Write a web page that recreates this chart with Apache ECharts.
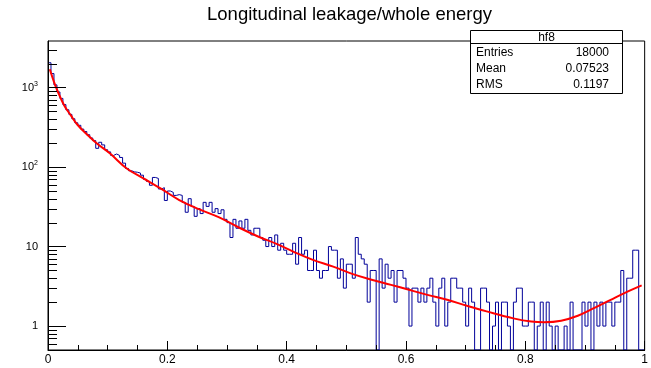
<!DOCTYPE html>
<html><head><meta charset="utf-8">
<script src="https://cdn.jsdelivr.net/npm/echarts@6/dist/echarts.min.js"></script>
<style>html,body{margin:0;padding:0;background:#fff}#c{width:651px;height:368px}</style>
</head><body><div id="c"></div>
<script>
// ---- data ----
const chartTitle = 'Longitudinal leakage/whole energy';
const xLow = 0, xHigh = 1, nBins = 200;
const counts = [
 2050,1500,1080,880,730,610,525,460,405,360,
 335,300,280,255,232,215,172,205,190,165,
 155,140,146,140,132,112,96,90,87,86,
 84,79,70,66,59,74,72,53,55,38,
 50,48,44,45,44,36,27,40,32,24,
 30,26,36,32,36,27,30,26,29,22,
 20,13,22,17,21,17,22,16,14,17,
 17,13,12,10,13,10,14,9,11,9,
 8,8,11,6,13,8,9,5,5,9,
 5,4,5,5,10,9,9,4,7,3,
 6,6,4,13,8,7,6,2,5,5,
 0,7,3,6,4,5,2,5,5,4,
 3,1,3,3,2,3,2,3,4,2,
 1,3,4,1,2,4,4,3,3,2,
 1,3,2,0,0,3,3,2,0,1,
 2,0,2,2,1,0,2,3,3,1,
 1,2,2,0,1,2,0,2,1,0,
 1,0,0,1,0,2,0,0,0,2,
 1,2,0,2,1,2,1,2,2,1,
 2,2,5,0,4,4,9,9,0,0
];
const fitX = [0.003,0.01,0.0155,0.027,0.038,0.049,0.065,0.082,0.104,0.132,0.160,0.190,0.220,0.253,0.286,0.319,0.353,0.383,0.411,0.444,0.478,0.511,0.544,0.575,0.602,0.636,0.669,0.702,0.735,0.78,0.810,0.832,0.860,0.888,0.915,0.943,0.966,0.995];
const fitY = [1700,1180,925,600,450,343,259,198,148,96,72,53,38.5,29.5,23.4,17.5,13.3,10.8,8.65,6.8,5.6,4.5,3.8,3.3,2.9,2.47,2.14,1.8,1.53,1.25,1.14,1.12,1.17,1.35,1.68,2.14,2.6,3.25];
const yMin = 0.5, yMax = 3850;
const yMajorTicks = [1, 10, 100, 1000];
const yMinorTicks = [0.6,0.7,0.8,0.9,2,3,4,5,6,7,8,9,20,30,40,50,60,70,80,90,200,300,400,500,600,700,800,900,2000,3000];
const xTickStep = 0.2;
const statsTitle = 'hf8';
const statsNames = ['Entries', 'Mean', 'RMS'];
const statsValues = ['18000', '0.07523', '0.1197'];

// ---- build ----
const binW = (xHigh - xLow) / nBins;
const histData = counts.map((c, i) => [xLow + i * binW, c > 0 ? c : yMin]);
histData.push([xHigh, counts[nBins - 1] > 0 ? counts[nBins - 1] : yMin]);
const fitData = fitX.map((x, i) => [x, fitY[i]]);

const FONT = 'Liberation Sans, Arial, Helvetica, sans-serif';
const chart = echarts.init(document.getElementById('c'), null, {renderer: 'canvas'});

const gLeft = 48, gRight = 4, gTop = 41, gBottom = 18;
const boxL = 470.5, boxR = 622.5, boxT = 30.5, boxH = 43.5, boxB = 93.5;
const rowY = [52.5, 68.5, 84.5];

const graphics = [
  {type: 'text', x: 349.5, y: 15, z: 100,
   style: {text: chartTitle, align: 'center', verticalAlign: 'middle', font: '18.5px ' + FONT, fill: '#000'}},
  {type: 'rect', z: 100, shape: {x: boxL, y: boxT, width: boxR - boxL, height: boxB - boxT},
   style: {fill: '#fff', stroke: '#000', lineWidth: 1}},
  {type: 'line', z: 101, shape: {x1: boxL, y1: boxH, x2: boxR, y2: boxH}, style: {stroke: '#000', lineWidth: 1}},
  {type: 'text', z: 101, x: (boxL + boxR) / 2, y: (boxT + boxH) / 2 + 0.5,
   style: {text: statsTitle, align: 'center', verticalAlign: 'middle', font: '12px ' + FONT, fill: '#000'}}
];
statsNames.forEach((n, i) => {
  graphics.push({type: 'text', z: 101, x: 476, y: rowY[i],
    style: {text: n, align: 'left', verticalAlign: 'middle', font: '12px ' + FONT, fill: '#000'}});
  graphics.push({type: 'text', z: 101, x: 609, y: rowY[i],
    style: {text: statsValues[i], align: 'right', verticalAlign: 'middle', font: '12px ' + FONT, fill: '#000'}});
});

chart.setOption({
  animation: false,
  backgroundColor: '#fff',
  grid: {left: gLeft, right: gRight, top: gTop, bottom: gBottom, show: true, borderColor: '#000', borderWidth: 1, backgroundColor: '#fff'},
  xAxis: {
    type: 'value', min: xLow, max: xHigh, interval: xTickStep, z: 10,
    axisLine: {show: true, onZero: false, lineStyle: {color: '#000', width: 1}},
    axisTick: {show: true, inside: true, length: 9, lineStyle: {color: '#000'}},
    minorTick: {show: true, splitNumber: 4, length: 5, lineStyle: {color: '#000'}},
    splitLine: {show: false},
    axisLabel: {margin: 4, color: '#000', fontSize: 12, fontFamily: FONT}
  },
  yAxis: {
    type: 'log', logBase: 10, min: yMin, max: yMax, z: 10,
    axisLine: {show: true, lineStyle: {color: '#000', width: 1}},
    axisTick: {show: true, inside: true, length: 18, lineStyle: {color: '#000'}},
    splitLine: {show: false},
    axisLabel: {
      margin: 10, color: '#000', fontSize: 11, fontFamily: FONT, showMinLabel: false, showMaxLabel: false,
      formatter: function (v) {
        const r = Math.round(v);
        if (yMajorTicks.indexOf(r) < 0 || Math.abs(v - r) > 1e-6) return '';
        if (r >= 100) return '10{s|' + Math.round(Math.log10(r)) + '}';
        return String(r);
      },
      rich: {s: {fontSize: 7, fontFamily: FONT, color: '#000', padding: [0, 0, 7, 0]}}
    }
  },
  graphic: graphics,
  series: [
    {
      type: 'line', name: 'hist', data: histData, step: 'end', showSymbol: false, symbol: 'none',
      lineStyle: {color: '#000099', width: 1}, z: 3, clip: true
    },
    {
      type: 'line', name: 'fit', data: fitData, smooth: 0.4, showSymbol: false, symbol: 'none',
      lineStyle: {color: '#ff0000', width: 2}, z: 4, clip: true
    },
    {
      type: 'custom', name: 'yminor', coordinateSystem: 'cartesian2d', z: 11, silent: true,
      data: yMinorTicks.map(v => [xLow, v]),
      renderItem: function (params, api) {
        const p = api.coord([api.value(0), api.value(1)]);
        const y = Math.round(p[1]) + 0.5;
        return {type: 'line', shape: {x1: p[0], y1: y, x2: p[0] + 9, y2: y}, style: {stroke: '#000', lineWidth: 1}};
      }
    }
  ]
});
</script></body></html>
